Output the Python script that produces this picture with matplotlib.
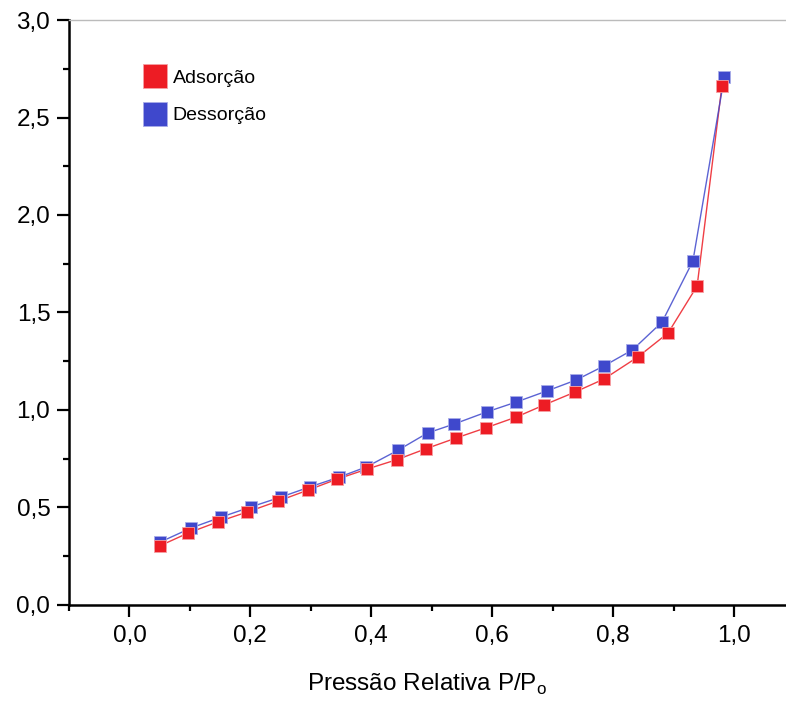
import matplotlib
matplotlib.use("Agg")
import matplotlib.pyplot as plt
from matplotlib.ticker import MultipleLocator, FuncFormatter

plt.rcParams['font.family'] = ['Liberation Sans', 'DejaVu Sans']

# relative pressure and adsorbed amount for both branches
p_ads = [0.05, 0.097, 0.146, 0.195, 0.246, 0.296, 0.344, 0.393, 0.443, 0.491,
         0.540, 0.589, 0.640, 0.686, 0.737, 0.785, 0.841, 0.891, 0.939, 0.980]
q_ads = [0.303, 0.369, 0.426, 0.477, 0.533, 0.590, 0.646, 0.697, 0.746, 0.802,
         0.856, 0.908, 0.964, 1.026, 1.092, 1.159, 1.272, 1.395, 1.636, 2.662]

p_des = [0.051, 0.102, 0.152, 0.201, 0.251, 0.298, 0.347, 0.392, 0.445, 0.493,
         0.537, 0.591, 0.640, 0.690, 0.739, 0.785, 0.832, 0.881, 0.932, 0.984]
q_des = [0.323, 0.395, 0.451, 0.503, 0.554, 0.605, 0.656, 0.708, 0.795, 0.882,
         0.928, 0.990, 1.041, 1.097, 1.154, 1.226, 1.308, 1.451, 1.764, 2.708]

red = '#ED1C24'
blue = '#3F48CC'

fig = plt.figure(figsize=(7.86, 7.02), dpi=100)
ax = fig.add_axes([0.0878, 0.1382, 0.9122, 0.8333])

ax.plot(p_ads, q_ads, '-', color=red, lw=1, alpha=0.85)
ax.plot(p_ads, q_ads, 's', color=red, ms=9, mec='#F5A0A4', mew=0.6, label='Adsorção', zorder=3)
ax.plot(p_des, q_des, '-', color=blue, lw=1, alpha=0.85)
ax.plot(p_des, q_des, 's', color=blue, ms=9, mec='#A8ACE8', mew=0.6, label='Dessorção', zorder=2)

ax.set_xlim(-0.1, 1.086)
ax.set_ylim(0, 3.0)

ax.xaxis.set_major_locator(MultipleLocator(0.2))
ax.xaxis.set_minor_locator(MultipleLocator(0.1))
ax.yaxis.set_major_locator(MultipleLocator(0.5))
ax.yaxis.set_minor_locator(MultipleLocator(0.25))
comma = FuncFormatter(lambda v, pos: f'{v:.1f}'.replace('.', ','))
ax.xaxis.set_major_formatter(comma)
ax.yaxis.set_major_formatter(comma)

ax.tick_params(which='major', direction='out', length=8.5, width=1.6, labelsize=17.5, pad=5)
ax.tick_params(which='minor', direction='out', length=4.5, width=1.6)
ax.tick_params(axis='x', which='major', pad=6)

for side in ['left', 'bottom']:
    ax.spines[side].set_linewidth(1.8)
ax.spines['top'].set_color('#BBBBBB')
ax.spines['top'].set_linewidth(1)
ax.spines['right'].set_visible(False)

ax.set_xlabel('Pressão Relativa P/P$_\\mathregular{o}$', fontsize=17.5, labelpad=18)

ax.legend(loc='upper left', bbox_to_anchor=(0.085, 0.945), frameon=False, fontsize=14,
          markerscale=1.9, handlelength=0.8, handletextpad=0.5, labelspacing=1.0)

fig.savefig('out.png', dpi=100)
